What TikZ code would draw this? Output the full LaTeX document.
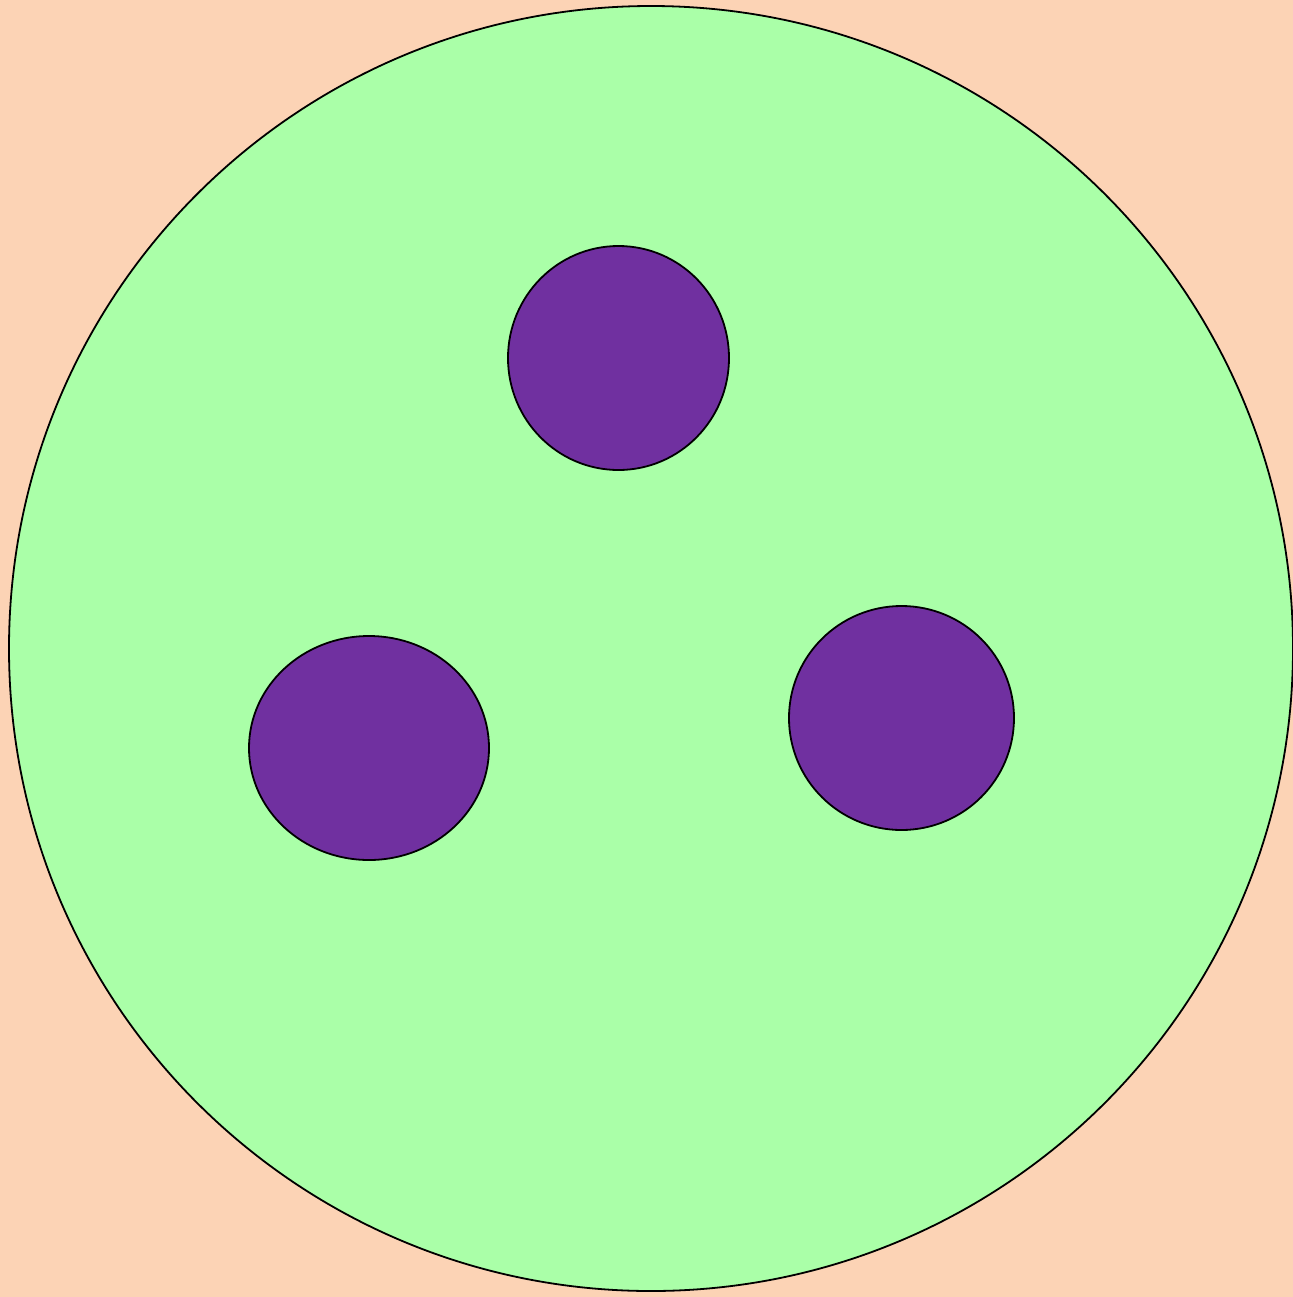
\documentclass[tikz,border=0pt]{standalone}
\definecolor{bgpeach}{HTML}{FCD3B5}
\definecolor{cellgreen}{HTML}{AAFFA8}
\definecolor{dotpurple}{HTML}{7030A0}
\begin{document}
\begin{tikzpicture}[x=0.5pt,y=-0.5pt,
  outer/.style={draw=black,fill=cellgreen,line width=0.9pt},
  inner/.style={draw=black,fill=dotpurple,line width=0.9pt}]
\useasboundingbox (0,0) rectangle (1293,1297);
\fill[bgpeach] (0,0) rectangle (1293,1297);
\begin{scope}
\clip (0,0) rectangle (1293,1297);
\draw[outer] (651,648.5) ellipse [x radius=642, y radius=642.5];
\end{scope}
\draw[inner] (618.5,358) ellipse [x radius=110.5, y radius=112];
\draw[inner] (369,748) ellipse [x radius=120, y radius=112];
\draw[inner] (901.5,718) ellipse [x radius=112.5, y radius=112];
\end{tikzpicture}
\end{document}
